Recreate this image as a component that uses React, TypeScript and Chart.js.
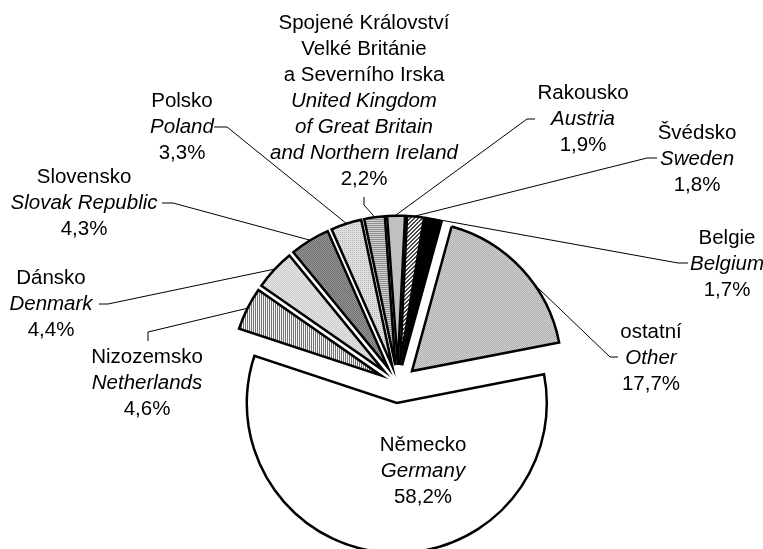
import React, { useEffect, useRef } from "react";
import { Chart, registerables } from "chart.js";

Chart.register(...registerables);

// ---- data ----
const namesCz = [
  "Německo",
  "Nizozemsko",
  "Dánsko",
  "Slovensko",
  "Polsko",
  "Spojené Království\nVelké Británie\na Severního Irska",
  "Rakousko",
  "Švédsko",
  "Belgie",
  "ostatní",
];
const namesEn = [
  "Germany",
  "Netherlands",
  "Denmark",
  "Slovak Republic",
  "Poland",
  "United Kingdom\nof Great Britain\nand Northern Ireland",
  "Austria",
  "Sweden",
  "Belgium",
  "Other",
];
const shares = [58.2, 4.6, 4.4, 4.3, 3.3, 2.2, 1.9, 1.8, 1.7, 17.7];

// ---- layout / style (not data) ----
const W = 763;
const H = 549;
const PIE_RADIUS = 150;
const EXPLODE = 19;
const FONT_PX = 20.5;
const LINE_H = 26;
const FONT_FAMILY = '"Liberation Sans", Arial, Helvetica, sans-serif';

const patternKinds = [
  "white",
  "vstripes",
  "lightdots",
  "darkdots",
  "polanddots",
  "hstripes",
  "solidgray",
  "diag",
  "black",
  "otherdots",
];

// label block: centre x, centre y of first line
const labelPos = [
  { x: 423, y: 445 },
  { x: 147, y: 357 },
  { x: 51, y: 278 },
  { x: 84, y: 177 },
  { x: 182, y: 101 },
  { x: 364, y: 23 },
  { x: 583, y: 93 },
  { x: 697, y: 133 },
  { x: 727, y: 238 },
  { x: 651, y: 332 },
];

// leader: first points near the label, last point on the slice edge
const leaders: ({ pts: number[][]; frac: number } | null)[] = [
  null,
  { pts: [[148, 341], [148, 332]], frac: 0.5 },
  { pts: [[99, 304], [108, 304]], frac: 0.5 },
  { pts: [[162, 203], [173, 203]], frac: 0.5 },
  { pts: [[214, 127], [227, 127]], frac: 0.5 },
  { pts: [[364, 197], [364, 205]], frac: 0.5 },
  { pts: [[535, 119], [527, 119]], frac: 0.5 },
  { pts: [[657, 158], [647, 158]], frac: 0.5 },
  { pts: [[688, 263], [678, 263]], frac: 0.5 },
  { pts: [[618, 357], [610, 357]], frac: 0.62 },
];

function makePattern(kind: string): CanvasPattern | string {
  const solid: Record<string, string> = {
    white: "#ffffff",
    black: "#000000",
    solidgray: "#c0c0c0",
  };
  if (solid[kind]) return solid[kind];
  const size = 4;
  const c = document.createElement("canvas");
  c.width = size;
  c.height = size;
  const g = c.getContext("2d")!;
  for (let y = 0; y < size; y++) {
    for (let x = 0; x < size; x++) {
      let col = "#ffffff";
      switch (kind) {
        case "vstripes":
          col = x % 2 === 0 ? "#6a6a6a" : "#ffffff";
          break;
        case "hstripes":
          col = y % 2 === 0 ? "#7a7a7a" : "#e6e6e6";
          break;
        case "lightdots":
          col = (x + y) % 2 === 0 ? "#c4c4c4" : "#eeeeee";
          break;
        case "darkdots":
          col = (x + y) % 2 === 0 ? "#606060" : "#a4a4a4";
          break;
        case "polanddots":
          col = (x + y) % 2 === 0 ? (x % 2 === 0 ? "#9a9a9a" : "#d0d0d0") : "#f4f4f4";
          break;
        case "diag":
          col = (x + y) % 4 < 2 ? "#3c3c3c" : "#ffffff";
          break;
        case "otherdots":
          col = (x + y) % 2 === 0 ? "#a2a2a2" : "#dedede";
          break;
      }
      g.fillStyle = col;
      g.fillRect(x, y, 1, 1);
    }
  }
  const p = document.createElement("canvas").getContext("2d")!.createPattern(c, "repeat");
  return p || "#c0c0c0";
}

function fmtPct(v: number) {
  return v.toFixed(1).replace(".", ",") + "%";
}

// Make Chart.js' "offset" a pure translation (exploded slices keep radius & angle)
const explodePlugin = {
  id: "pureExplode",
  afterDatasetUpdate(chart: any) {
    const meta = chart.getDatasetMeta(0);
    meta.data.forEach((arc: any) => {
      const off = (arc.options.offset || 0) / 4;
      const circ = arc.endAngle - arc.startAngle;
      const fix = 1 - Math.sin(Math.min(Math.PI, circ));
      const rOff = off * fix;
      arc.outerRadius = PIE_RADIUS - rOff;
      const widen = rOff / Math.PI / PIE_RADIUS / 2;
      arc._trueStart = arc.startAngle;
      arc._trueEnd = arc.endAngle;
      arc.startAngle -= widen;
      arc.endAngle += widen;
      arc.circumference = arc.endAngle - arc.startAngle;
    });
  },
};

const labelPlugin = {
  id: "pieLabels",
  afterDatasetsDraw(chart: any) {
    const ctx: CanvasRenderingContext2D = chart.ctx;
    const meta = chart.getDatasetMeta(0);
    ctx.save();
    ctx.strokeStyle = "#000";
    ctx.lineWidth = 1;
    meta.data.forEach((arc: any, i: number) => {
      const ld = leaders[i];
      if (!ld) return;
      const s = arc._trueStart ?? arc.startAngle;
      const e = arc._trueEnd ?? arc.endAngle;
      const mid = (s + e) / 2;
      const tr = (arc.options.offset || 0) / 4;
      const cx = arc.x + Math.cos(mid) * tr;
      const cy = arc.y + Math.sin(mid) * tr;
      const a = s + (e - s) * ld.frac;
      const ex = cx + Math.cos(a) * PIE_RADIUS;
      const ey = cy + Math.sin(a) * PIE_RADIUS;
      ctx.beginPath();
      ctx.moveTo(ld.pts[0][0], ld.pts[0][1]);
      for (let k = 1; k < ld.pts.length; k++) ctx.lineTo(ld.pts[k][0], ld.pts[k][1]);
      ctx.lineTo(ex, ey);
      ctx.stroke();
    });
    ctx.fillStyle = "#000";
    ctx.textAlign = "center";
    ctx.textBaseline = "middle";
    shares.forEach((v, i) => {
      const lines: [string, boolean][] = [];
      namesCz[i].split("\n").forEach((t) => lines.push([t, false]));
      namesEn[i].split("\n").forEach((t) => lines.push([t, true]));
      lines.push([fmtPct(v), false]);
      const p = labelPos[i];
      lines.forEach(([t, it], k) => {
        ctx.font = `${it ? "italic " : ""}${FONT_PX}px ${FONT_FAMILY}`;
        ctx.fillText(t, p.x, p.y + k * LINE_H);
      });
    });
    ctx.restore();
  },
};

export default function App() {
  const ref = useRef<HTMLCanvasElement | null>(null);
  useEffect(() => {
    document.body.style.margin = "0";
    const canvas = ref.current!;
    const chart = new Chart(canvas, {
      type: "pie",
      data: {
        labels: namesCz.map((n) => n.replace(/\n/g, " ")),
        datasets: [
          {
            data: shares,
            backgroundColor: patternKinds.map(makePattern) as any,
            borderColor: "#000000",
            borderWidth: 2.5,
            borderJoinStyle: "miter",
            offset: EXPLODE * 4,
            hoverOffset: 0,
            radius: PIE_RADIUS,
            clip: false as any,
          } as any,
        ],
      },
      options: {
        animation: false,
        responsive: false,
        maintainAspectRatio: false,
        devicePixelRatio: 1,
        rotation: 79,
        layout: { padding: { left: 33, right: 0, top: 219, bottom: 0 } },
        plugins: {
          legend: { display: false },
          tooltip: { enabled: false },
          title: { display: false },
        },
        events: [],
      } as any,
      plugins: [explodePlugin, labelPlugin],
    });
    return () => chart.destroy();
  }, []);
  return (
    <div style={{ width: W, height: H, background: "#fff" }}>
      <canvas ref={ref} width={W} height={H} style={{ width: W, height: H, display: "block" }} />
    </div>
  );
}
